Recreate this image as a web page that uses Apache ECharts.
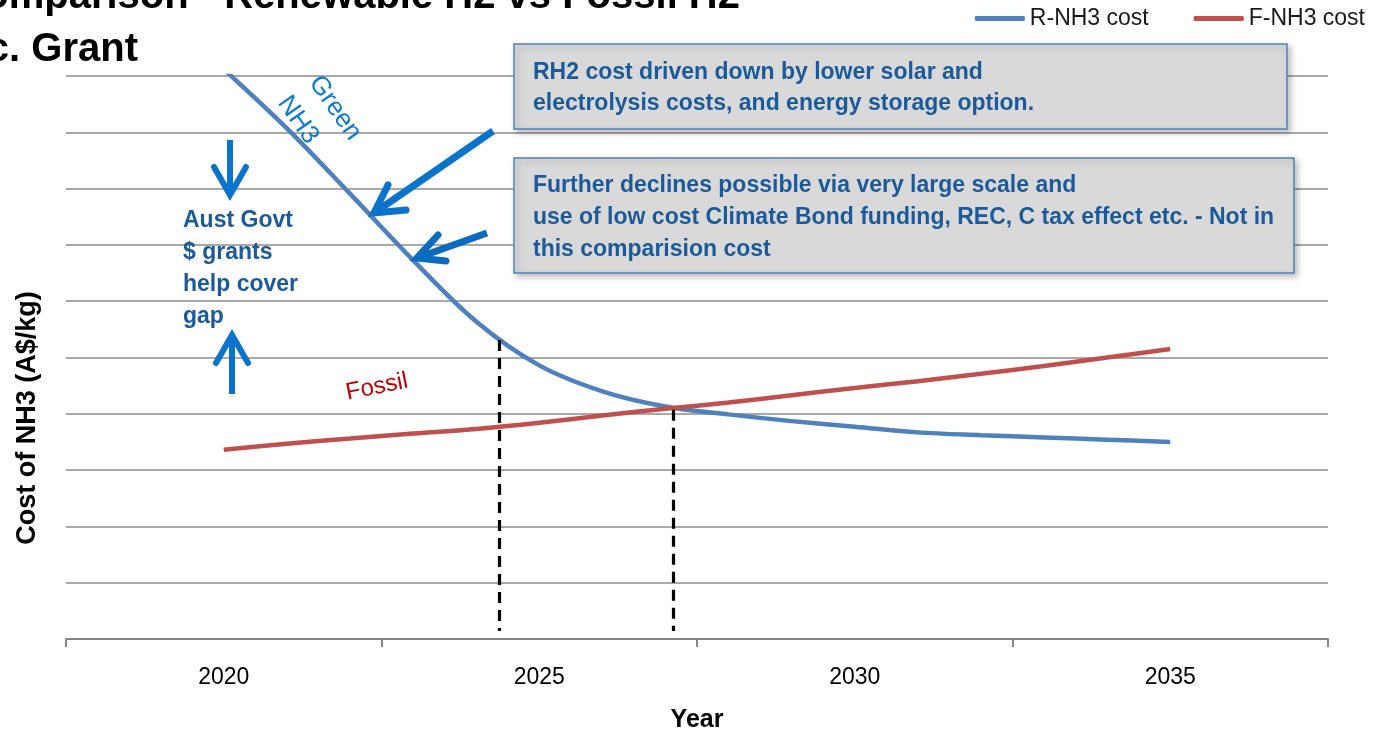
<!DOCTYPE html>
<html><head><meta charset="utf-8">
<script src="https://cdn.jsdelivr.net/npm/echarts/dist/echarts.min.js"></script>
<style>html,body{margin:0;padding:0;background:#fff}#c{width:1382px;height:732px}</style>
</head><body><div id="c"></div>
<script>
// ---- data ----
const years = [2020,2021,2022,2023,2024,2025,2026,2027,2028,2029,2030,2031,2032,2033,2034,2035];
const rNH3 = [10.12,9.07,7.91,6.73,5.64,4.86,4.40,4.13,3.99,3.87,3.77,3.67,3.62,3.58,3.54,3.50];
const fNH3 = [3.36,3.47,3.56,3.65,3.73,3.84,3.97,4.09,4.20,4.33,4.46,4.58,4.71,4.85,5.00,5.15];
const tickLabels = ['2020','2025','2030','2035'];
const breakEvenYears = [2024.36, 2027.12];
const breakEvenTops = [5.31, 4.07];
const breakEvenBottom = 0.14;

const FF = '"Liberation Sans", Arial, sans-serif';
const chart = echarts.init(document.getElementById('c'), null, {renderer:'canvas'});

function arrow(tail, tip, arm1, arm2, w, color){
  return [
    {type:'line', z:110, shape:{x1:tail[0],y1:tail[1],x2:tip[0],y2:tip[1]}, style:{stroke:color,lineWidth:w,lineCap:'butt'}},
    {type:'polyline', z:110, shape:{points:[arm1,tip,arm2]}, style:{stroke:color,lineWidth:w,lineCap:'round',lineJoin:'miter',fill:null}}
  ];
}
const AC = '#0a74cc';
const TXT = '#1b5a9a';

const graphics = [
  {type:'text', z:100, style:{text:'Cost Comparison - Renewable H2 vs Fossil H2', x:740, y:-3, textAlign:'right', textVerticalAlign:'middle', fill:'#000', font:'bold 40px '+FF}},
  {type:'text', z:100, style:{text:'Inc. Grant', x:138, y:50, textAlign:'right', textVerticalAlign:'middle', fill:'#000', font:'bold 40px '+FF}},
  {type:'text', z:100, x:28, y:418, rotation:Math.PI/2, style:{text:'Cost of NH3 (A$/kg)', x:0, y:0, textAlign:'center', textVerticalAlign:'middle', fill:'#000', font:'bold 27px '+FF}},
  {type:'rect', z:100, shape:{x:514,y:44,width:773,height:85}, style:{fill:'#d9d9d9', stroke:'#4f81bd', lineWidth:1.5, shadowBlur:6, shadowOffsetX:3, shadowOffsetY:3, shadowColor:'rgba(0,0,0,0.25)'}},
  {type:'text', z:101, style:{text:'RH2 cost driven down by lower solar and\nelectrolysis costs, and energy storage option.', x:533, y:57.5, textAlign:'left', textVerticalAlign:'top', lineHeight:31, fill:TXT, font:'bold 23px '+FF}},
  {type:'rect', z:100, shape:{x:514,y:158,width:780,height:115}, style:{fill:'#d9d9d9', stroke:'#4f81bd', lineWidth:1.5, shadowBlur:6, shadowOffsetX:3, shadowOffsetY:3, shadowColor:'rgba(0,0,0,0.25)'}},
  {type:'text', z:101, style:{text:'Further declines possible via very large scale and\nuse of low cost Climate Bond funding, REC, C tax effect etc. - Not in\nthis comparision cost', x:533, y:170, textAlign:'left', textVerticalAlign:'top', lineHeight:32, fill:TXT, font:'bold 23px '+FF}},
  {type:'text', z:101, style:{text:'Aust Govt\n$ grants\nhelp cover\ngap', x:183, y:205, textAlign:'left', textVerticalAlign:'top', lineHeight:32, fill:TXT, font:'bold 23px '+FF}},
  {type:'text', z:101, x:335, y:108, rotation:-0.96, style:{text:'Green', x:0, y:0, textAlign:'center', textVerticalAlign:'middle', fill:'#0a7bd0', font:'26px '+FF}},
  {type:'text', z:101, x:298, y:120, rotation:-0.96, style:{text:'NH3', x:0, y:0, textAlign:'center', textVerticalAlign:'middle', fill:'#0a7bd0', font:'26px '+FF}},
  {type:'text', z:101, x:377, y:387, rotation:0.2, style:{text:'Fossil', x:0, y:0, textAlign:'center', textVerticalAlign:'middle', fill:'#c00000', font:'24px '+FF}}
].concat(
  arrow([230,140],[230,195],[214,167],[246,167],6,AC),
  arrow([232,394],[232,335],[216,363],[248,363],6,AC),
  arrow([493,131],[374,213],[388,185],[406,210],7,AC),
  arrow([487,233],[417,258],[438,235],[446,261],7,'#0a6cbf')
);

const option = {
  animation:false,
  backgroundColor:'#fff',
  textStyle:{fontFamily:FF},
  grid:{left:66, right:54, top:76, bottom:93, containLabel:false, outerBoundsMode:'none'},
  legend:{top:2, right:12, itemWidth:50, itemHeight:5, itemGap:45, icon:'roundRect',
    textStyle:{fontSize:23, color:'#1a1a1a', fontFamily:FF},
    data:['R-NH3 cost','F-NH3 cost']},
  xAxis:[
    {type:'category', data:tickLabels, boundaryGap:true,
     axisLine:{lineStyle:{color:'#868686', width:2}},
     axisTick:{show:true, length:8, lineStyle:{color:'#868686', width:2}},
     axisLabel:{fontSize:23, color:'#000', margin:27, fontFamily:FF},
     splitLine:{show:false},
     name:'Year', nameLocation:'middle', nameGap:69,
     nameTextStyle:{fontSize:25, fontWeight:'bold', color:'#000', fontFamily:FF}},
    {type:'value', min:2017.5, max:2037.5, show:false}
  ],
  yAxis:{type:'value', min:0, max:10, interval:1,
    axisLabel:{show:false}, axisLine:{show:false}, axisTick:{show:false},
    splitLine:{lineStyle:{color:'#8c8c8c', width:1.5}}},
  series:[
    {name:'R-NH3 cost', type:'line', xAxisIndex:1, smooth:0.35, symbol:'none', clip:true,
     data:years.map((y,i)=>[y, rNH3[i]]),
     lineStyle:{color:'#4f81bd', width:4.5}, itemStyle:{color:'#4f81bd'},
     markLine:{silent:true, symbol:'none', label:{show:false},
       lineStyle:{color:'#000', type:[11,7], width:3.2},
       data:breakEvenYears.map((x,i)=>[{coord:[x, breakEvenTops[i]]},{coord:[x, breakEvenBottom]}])}},
    {name:'F-NH3 cost', type:'line', xAxisIndex:1, smooth:0.35, symbol:'none', clip:true,
     data:years.map((y,i)=>[y, fNH3[i]]),
     lineStyle:{color:'#c0504d', width:4.5}, itemStyle:{color:'#c0504d'}}
  ],
  graphic:graphics
};
chart.setOption(option);
</script></body></html>
